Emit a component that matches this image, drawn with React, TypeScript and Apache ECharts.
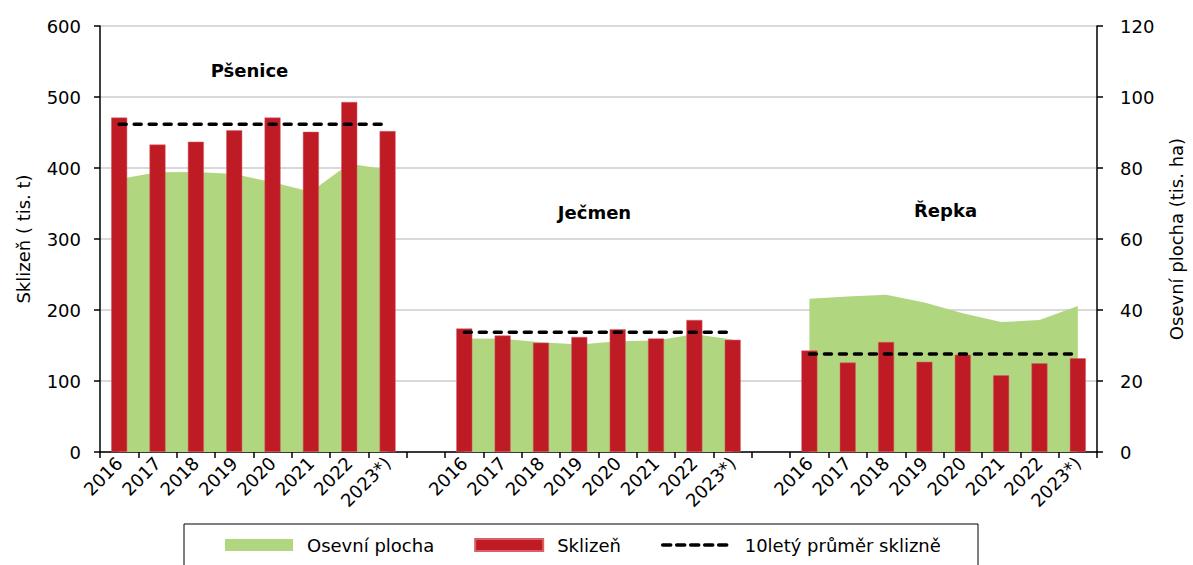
import React, { useEffect, useRef } from "react";
import * as echarts from "echarts";

const years = ["2016", "2017", "2018", "2019", "2020", "2021", "2022", "2023*)"];
const cropNames = ["Pšenice", "Ječmen", "Řepka"];

const wheatHarvest = [471, 433, 437, 453, 471, 451, 493, 452];
const barleyHarvest = [174, 164, 154, 162, 173, 160, 186, 158];
const rapeHarvest = [143, 126, 155, 127, 137, 108, 125, 132];

const wheatArea = [76.9, 78.8, 78.9, 78.3, 76.0, 73.3, 81.2, 79.6];
const barleyArea = [32.0, 31.9, 30.9, 30.3, 31.2, 31.4, 33.2, 31.7];
const rapeArea = [43.2, 43.8, 44.3, 42.1, 39.1, 36.6, 37.2, 41.1];

const wheatAvg = 461.5;
const barleyAvg = 168.5;
const rapeAvg = 138;

const leftTicks = [0, 100, 200, 300, 400, 500, 600];
const rightTicks = [0, 20, 40, 60, 80, 100, 120];

const FONT = "DejaVu Sans";
const GREEN = "#b1d680";
const RED = "#be1b24";

function joinGroups<T>(a: T[], b: T[], c: T[]): (T | null)[] {
  return [...a, null, ...b, null, ...c];
}

export default function App() {
  const ref = useRef<HTMLDivElement>(null);

  useEffect(() => {
    document.body.style.margin = "0";
    if (!ref.current) return;
    const chart = echarts.init(ref.current, undefined, { renderer: "svg" });

    const categories = [...years, "", ...years, "", ...years];
    const harvest = joinGroups(wheatHarvest, barleyHarvest, rapeHarvest);
    const area = joinGroups(wheatArea, barleyArea, rapeArea);
    const avg = joinGroups(
      wheatHarvest.map(() => wheatAvg),
      barleyHarvest.map(() => barleyAvg),
      rapeHarvest.map(() => rapeAvg)
    );

    const axisLine = { show: true, lineStyle: { color: "#000", width: 1.5 } };
    const axisTick = { show: true, inside: false, length: 6, lineStyle: { color: "#000", width: 1.5 } };

    chart.setOption({
      animation: false,
      textStyle: { fontFamily: FONT },
      grid: { left: 100, right: 89, top: 26, bottom: 113, containLabel: false },
      xAxis: {
        type: "category",
        data: categories,
        boundaryGap: true,
        axisLine,
        axisTick: { ...axisTick, interval: 0, alignWithLabel: false },
        axisLabel: {
          interval: 0,
          rotate: 45,
          margin: 8,
          fontSize: 18,
          color: "#000",
          fontFamily: FONT,
        },
        splitLine: { show: false },
      },
      yAxis: [
        {
          type: "value",
          min: leftTicks[0],
          max: leftTicks[leftTicks.length - 1],
          interval: 100,
          name: "Sklizeň ( tis. t)",
          nameLocation: "middle",
          nameRotate: 90,
          nameGap: 68,
          nameTextStyle: { fontSize: 18, color: "#000", fontFamily: FONT },
          axisLine,
          axisTick,
          axisLabel: { fontSize: 18, color: "#000", margin: 19, fontFamily: FONT },
          splitLine: { show: true, lineStyle: { color: "#cccccc", width: 1.5 } },
        },
        {
          type: "value",
          min: rightTicks[0],
          max: rightTicks[rightTicks.length - 1],
          interval: 20,
          position: "right",
          name: "Osevní plocha (tis. ha)",
          nameLocation: "middle",
          nameRotate: 90,
          nameGap: 70,
          nameTextStyle: { fontSize: 18, color: "#000", fontFamily: FONT },
          axisLine,
          axisTick,
          axisLabel: { fontSize: 18, color: "#000", margin: 23, fontFamily: FONT },
          splitLine: { show: false },
        },
      ],
      legend: {
        left: 225,
        top: 536,
        padding: 0,
        itemWidth: 68,
        itemHeight: 12,
        itemGap: 40,
        textStyle: { fontSize: 18, color: "#000", fontFamily: FONT, padding: [0, 0, 0, 9] },
        data: [
          { name: "Osevní plocha", icon: "rect" },
          { name: "Sklizeň", icon: "rect" },
          {
            name: "10letý průměr sklizně",
            itemStyle: { opacity: 0 },
            lineStyle: { width: 3.5, type: [8, 6], cap: "round", color: "#000" },
          },
        ],
      },
      graphic: [
        {
          type: "rect",
          shape: { x: 184, y: 524, width: 794, height: 60 },
          style: { fill: "none", stroke: "#000", lineWidth: 1 },
          z: 100,
        },
        {
          type: "text",
          x: 249.5,
          y: 70,
          style: {
            text: cropNames[0],
            font: `bold 18px "${FONT}"`,
            fill: "#000",
            textAlign: "center",
            textVerticalAlign: "middle",
          },
        },
        {
          type: "text",
          x: 594.5,
          y: 212,
          style: {
            text: cropNames[1],
            font: `bold 18px "${FONT}"`,
            fill: "#000",
            textAlign: "center",
            textVerticalAlign: "middle",
          },
        },
        {
          type: "text",
          x: 945.5,
          y: 210,
          style: {
            text: cropNames[2],
            font: `bold 18px "${FONT}"`,
            fill: "#000",
            textAlign: "center",
            textVerticalAlign: "middle",
          },
        },
      ],
      series: [
        {
          name: "Osevní plocha",
          type: "line",
          yAxisIndex: 1,
          data: area,
          symbol: "none",
          connectNulls: false,
          lineStyle: { width: 0, color: GREEN },
          itemStyle: { color: GREEN },
          areaStyle: { color: GREEN, opacity: 1 },
          z: 1,
        },
        {
          name: "Sklizeň",
          type: "bar",
          yAxisIndex: 0,
          data: harvest,
          barWidth: 16,
          itemStyle: { color: RED, borderColor: "#d8606a", borderWidth: 0.5 },
          z: 2,
        },
        {
          name: "10letý průměr sklizně",
          type: "line",
          yAxisIndex: 0,
          data: avg,
          symbol: "none",
          connectNulls: false,
          itemStyle: { color: "#000" },
          lineStyle: { color: "#000", width: 3.5, type: [7, 8], cap: "round" },
          z: 3,
        },
      ],
    });

    return () => chart.dispose();
  }, []);

  return <div ref={ref} style={{ width: 1193, height: 565 }} />;
}
